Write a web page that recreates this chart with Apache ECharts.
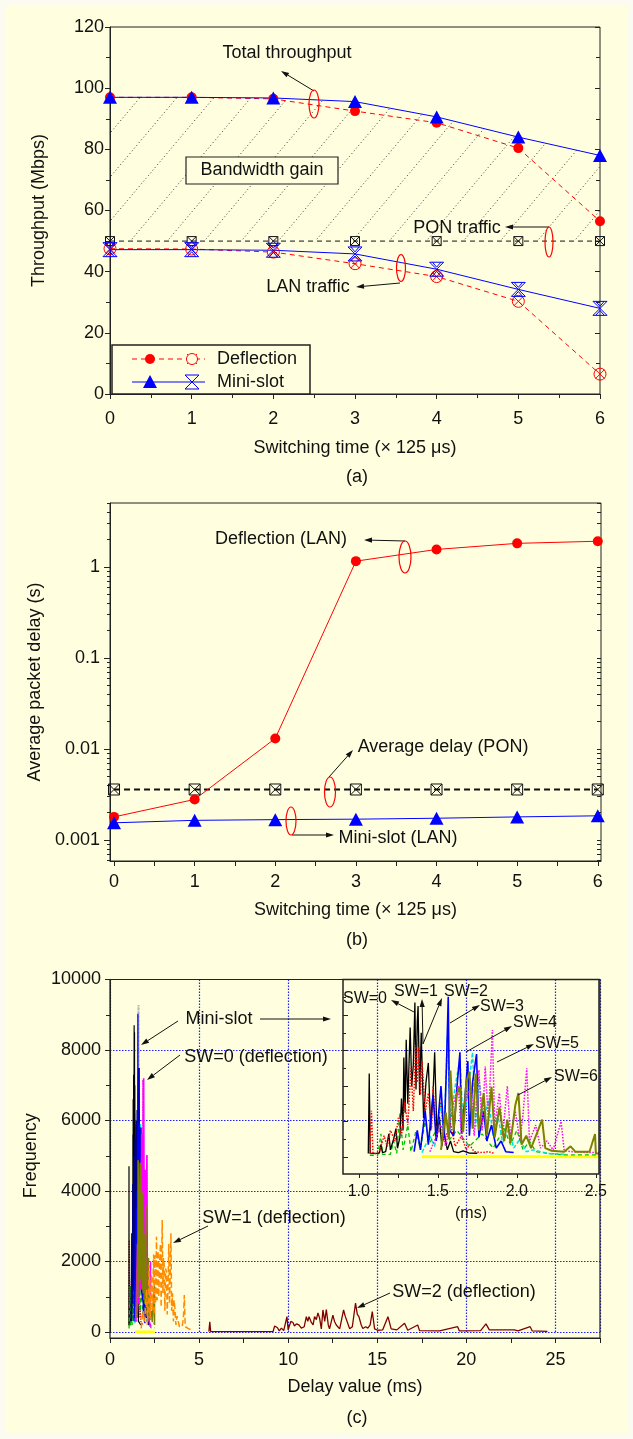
<!DOCTYPE html>
<html>
<head>
<meta charset="utf-8">
<title>Switching time: throughput, delay and delay distribution</title>
<script src="https://cdn.jsdelivr.net/npm/echarts@6.0.0/dist/echarts.min.js"></script>
<style>
  html, body { margin: 0; padding: 0; background: #fbfbf1; }
  #chart { width: 633px; height: 1439px; background: #ffffe0; box-shadow: inset 0 0 0 6px #fbfbf1; }
</style>
</head>
<body>
<div id="chart"></div>
<script>
// ---- (a) throughput vs switching time ----
const switchTimes = [0, 1, 2, 3, 4, 5, 6];
const halfSteps = [0, 0.5, 1, 1.5, 2, 2.5, 3, 3.5, 4, 4.5, 5, 5.5, 6];
const deflTotal = [97, 97, 96.5, 92.5, 88.7, 80.4, 56.5];
const miniTotal = [97, 97, 96.8, 95.6, 90.6, 84, 78];
const ponTraffic = [50, 50, 50, 50, 50, 50, 50];
const deflLan = [47.5, 47.4, 46.4, 42.6, 38.4, 30.3, 6.5];
const miniLan = [47.2, 47.2, 47, 45.8, 40.8, 34.2, 28];

// ---- (b) average packet delay (s) ----
const deflDelay = [0.0018, 0.0028, 0.0131, 1.16, 1.56, 1.82, 1.92];
const ponDelay = [0.0036, 0.0036, 0.0036, 0.0036, 0.0036, 0.0036, 0.0036];
const miniDelay = [0.00155, 0.00165, 0.00168, 0.0017, 0.00174, 0.0018, 0.00185];
const delayTicks = [0.001, 0.01, 0.1, 1];

// ---- (c) delay histograms [ms, frequency] ----
const insetLabels = [1.0, 1.5, 2.0, 2.5];
const insetTicks = [1.0, 1.25, 1.5, 1.75, 2.0, 2.25, 2.5];

const sw0Mini = [[1.06,200],[1.066,4700],[1.072,220],[1.10,200],[1.13,220],[1.14,700],[1.15,250],[1.17,300],[1.19,1300],[1.20,400],[1.22,1000],[1.235,1600],[1.245,500],[1.26,1100],[1.27,3300],[1.28,1500],[1.285,5600],[1.293,2500],[1.30,6600],[1.31,3000],[1.325,7300],[1.335,4000],[1.345,5200],[1.355,8700],[1.362,3800],[1.37,7600],[1.375,8500],[1.385,3500],[1.395,7000],[1.41,2200],[1.425,4200],[1.44,5300],[1.455,1500],[1.47,3600],[1.48,5900],[1.495,1100],[1.51,2300],[1.525,600],[1.54,1400],[1.56,400],[1.58,900],[1.60,300],[1.63,250],[1.66,350],[1.70,220],[1.75,210]];
const sw1Mini = [[1.07,180],[1.08,2600],[1.09,200],[1.11,180],[1.13,300],[1.16,1200],[1.18,600],[1.20,1500],[1.23,900],[1.25,2200],[1.27,1200],[1.29,3100],[1.31,1800],[1.33,5000],[1.345,2600],[1.36,6300],[1.37,4200],[1.38,6200],[1.39,3500],[1.40,5400],[1.42,2500],[1.44,3600],[1.46,1600],[1.47,4000],[1.49,1200],[1.52,3100],[1.54,900],[1.58,1900],[1.61,600],[1.65,1200],[1.68,400],[1.70,700],[1.73,300],[1.78,250],[1.82,300],[1.86,200]];
const sw4Mini = [[1.07,100],[1.12,100],[1.14,1300],[1.15,150],[1.20,150],[1.22,900],[1.24,200],[1.26,2500],[1.28,400],[1.31,1800],[1.33,300],[1.36,1400],[1.39,500],[1.42,2000],[1.45,800],[1.50,1700],[1.55,700],[1.62,1500],[1.70,600],[1.78,1300],[1.85,500],[1.92,1600],[1.96,700],[2.0,1500],[2.04,400],[2.08,900],[2.12,300],[2.2,200],[2.3,120],[2.52,120]];
const sw2Mini = [[1.35,300],[1.37,1500],[1.39,400],[1.42,2600],[1.44,700],[1.47,3500],[1.49,900],[1.52,4000],[1.54,1000],[1.555,5200],[1.566,9030],[1.575,1500],[1.60,1200],[1.62,3800],[1.64,5900],[1.65,1300],[1.67,3200],[1.69,5400],[1.70,1200],[1.72,4200],[1.745,5800],[1.76,1100],[1.79,2600],[1.81,900],[1.84,1800],[1.87,500],[1.90,900],[1.93,300],[1.98,250]];
const sw3Mini = [[1.40,250],[1.45,1200],[1.48,600],[1.52,3000],[1.54,1200],[1.56,6780],[1.58,2000],[1.61,4000],[1.64,5500],[1.66,1800],[1.69,3600],[1.72,5900],[1.74,1700],[1.76,4500],[1.79,2000],[1.82,3200],[1.85,1200],[1.88,2400],[1.91,800],[1.95,1600],[1.98,500],[2.02,1000],[2.06,300],[2.1,400],[2.2,200],[2.3,150]];
const sw5Mini = [[1.45,300],[1.52,1800],[1.55,600],[1.60,3000],[1.63,4000],[1.65,1000],[1.68,3300],[1.71,4000],[1.73,1200],[1.76,4900],[1.78,1500],[1.80,5100],[1.82,2000],[1.845,7150],[1.86,1800],[1.89,3600],[1.91,1200],[1.94,4000],[1.96,1100],[1.99,2600],[2.02,900],[2.04,2500],[2.063,5000],[2.08,900],[2.12,1800],[2.15,500],[2.19,900],[2.23,400],[2.28,2000],[2.30,350],[2.35,300],[2.45,250],[2.52,250]];
const sw6Mini = [[1.52,400],[1.55,2500],[1.57,1000],[1.58,4870],[1.60,1500],[1.62,3500],[1.64,3960],[1.66,1400],[1.68,4200],[1.70,4800],[1.72,1600],[1.74,4700],[1.76,1500],[1.79,3600],[1.81,1200],[1.84,3960],[1.86,1100],[1.89,2800],[1.92,900],[1.94,2100],[1.96,800],[1.99,2900],[2.01,3600],[2.03,700],[2.06,1200],[2.09,500],[2.13,1400],[2.16,2100],[2.18,500],[2.22,350],[2.30,300],[2.34,600],[2.37,300],[2.46,300],[2.495,1300],[2.50,200],[2.52,200]];
const yellowBase = [[1.40,10],[2.52,10]];
const miniEnvelope = [[1.50,300],[1.55,4000],[1.58,2000],[1.60,9280],[1.62,1500],[1.66,3000],[1.70,600]];
const navyMini = [[1.20,300],[1.24,2800],[1.27,800],[1.30,4200],[1.33,1200],[1.36,5000],[1.39,1500],[1.42,5500],[1.45,2000],[1.48,6000],[1.51,1800],[1.54,6300],[1.57,2200],[1.60,6800],[1.62,7490],[1.64,2500],[1.67,5800],[1.70,2000],[1.73,5200],[1.76,1500],[1.80,4600],[1.83,1200],[1.87,4100],[1.90,1000],[1.94,4200],[1.97,700],[2.00,2500],[2.04,400],[2.08,1500],[2.12,300],[2.2,200]];
const sw0Defl = [[1.45,300],[1.55,2500],[1.60,800],[1.68,4000],[1.72,1200],[1.78,5600],[1.82,1500],[1.89,7200],[1.93,1800],[1.98,4600],[2.02,1300],[2.07,5020],[2.10,900],[2.15,1500],[2.2,300],[2.3,150]];
const sw1Defl = [[1.75,100],[1.85,600],[1.95,300],[2.05,1200],[2.10,200],[2.15,770],[2.2,1900],[2.25,400],[2.33,1620],[2.38,600],[2.45,2200],[2.48,500],[2.52,2180],[2.56,800],[2.61,2700],[2.65,900],[2.70,2300],[2.74,1000],[2.78,1900],[2.83,2500],[2.87,700],[2.93,3180],[2.97,1100],[3.00,2100],[3.04,1900],[3.08,600],[3.12,1800],[3.17,1700],[3.21,500],[3.26,1400],[3.30,2500],[3.34,800],[3.38,1700],[3.42,2800],[3.46,600],[3.51,1100],[3.56,300],[3.60,900],[3.64,680],[3.70,200],[3.76,450],[3.83,300],[3.90,150],[3.98,200],[4.05,150],[4.12,400],[4.17,1050],[4.22,150],[4.30,140],[4.45,80],[4.6,70]];
const sw2Defl = [[5.55,10],[5.6,290],[5.65,10],[9.15,10],[9.24,170],[9.4,120],[9.5,30],[9.62,110],[9.75,40],[9.93,435],[10.0,60],[10.05,150],[10.15,300],[10.27,270],[10.35,170],[10.46,230],[10.6,200],[10.74,110],[10.9,150],[11.02,435],[11.1,300],[11.17,435],[11.3,270],[11.4,200],[11.48,435],[11.58,350],[11.67,540],[11.76,400],[11.86,90],[11.95,625],[12.05,300],[12.14,633],[12.25,200],[12.32,90],[12.51,480],[12.6,300],[12.7,200],[12.89,90],[13.11,625],[13.2,450],[13.26,435],[13.45,90],[13.6,150],[13.78,820],[13.88,500],[13.97,435],[14.1,200],[14.19,100],[14.35,150],[14.47,110],[14.6,200],[14.72,576],[14.85,90],[15.03,50],[15.3,60],[15.6,435],[15.78,90],[16.1,60],[16.53,250],[16.71,50],[17.27,200],[17.37,40],[18.5,30],[19.51,150],[19.61,30],[20.8,40],[21.1,230],[21.29,60],[22.4,60],[22.7,60],[22.9,30],[23.58,150],[23.7,30],[24.55,20]];

const FONT = '"Liberation Sans", Arial, Helvetica, sans-serif';
const FS = 18;
const INK = '#111';
const BG = '#ffffe0';
const SQ_X = 'path://M0,0L10,0L10,10L0,10Z M0,0L10,10 M10,0L0,10';
const CIRC_X = 'path://M10,5A5,5,0,1,1,0,5A5,5,0,1,1,10,5Z M1.2,1.2L8.8,8.8 M8.8,1.2L1.2,8.8';
const BAR_X = 'path://M0,0L10,0 M0,10L10,10 M0,0L10,10 M10,0L0,10 M2,0L5,3.5L8,0 M2,10L5,6.5L8,10';

const pts = (xs, ys) => xs.map((x, i) => [x, ys[i]]);

// minor ticks of the log axis in (b)
const logMinor = [];
for (let e = -4; e <= 0; e++) {
    for (let k = 2; k <= 9; k++) {
        const v = +(k * Math.pow(10, e)).toPrecision(2);
        if (v > 0.00059 && v < 5.05) logMinor.push(v);
    }
}

// dotted hatch for "Bandwidth gain"
const hatch = document.createElement('canvas');
hatch.width = 37; hatch.height = 44;
const hg = hatch.getContext('2d');
hg.strokeStyle = '#333'; hg.lineWidth = 1; hg.setLineDash([1, 2.6]);
hg.beginPath(); hg.moveTo(0, 44); hg.lineTo(37, 0); hg.stroke();

const labelStyle = { fontSize: FS, color: INK, fontFamily: FONT };
const nameStyle = { fontSize: FS, color: INK, fontFamily: FONT };
const tickLine = { lineStyle: { color: '#222', width: 1 } };
const gridDots = { show: true, lineStyle: { color: '#1f1fff', type: [1.5, 1.5], width: 1.2 } };

function trace(data, color, width, dash, axes, z) {
    return Object.assign({
        type: 'line', data, symbol: 'none', z: z || 2,
        lineStyle: { color, width, type: dash || 'solid' }
    }, axes);
}
const mainC = { xAxisIndex: 2, yAxisIndex: 5 };
const insetC = { xAxisIndex: 3, yAxisIndex: 6 };

function markerLine(data, color, dash, symbol, size, hollow, axes, width) {
    return Object.assign({
        type: 'line', data, symbol, symbolSize: size, z: 4,
        lineStyle: { color, width: width || 1, type: dash },
        itemStyle: hollow ? { color: 'rgba(0,0,0,0)', borderColor: color, borderWidth: 1 } : { color }
    }, axes);
}

// ---- graphic annotations ----
const g = [];
function txt(s, x, y, size, align) {
    g.push({ type: 'text', x, y, z: 20, style: { text: s, font: size + 'px ' + FONT, fill: INK, textAlign: align || 'center', textVerticalAlign: 'middle' } });
}
function seg(x1, y1, x2, y2, color, dash) {
    g.push({ type: 'line', z: 20, shape: { x1, y1, x2, y2 }, style: { stroke: color || INK, lineWidth: 1, lineDash: dash || null } });
}
function arrow(x1, y1, x2, y2) {
    const a = Math.atan2(y2 - y1, x2 - x1), L = 8, W = 2.6;
    const bx = x2 - L * Math.cos(a), by = y2 - L * Math.sin(a);
    seg(x1, y1, bx, by);
    g.push({ type: 'polygon', z: 20, shape: { points: [[x2, y2], [bx - W * Math.sin(a), by + W * Math.cos(a)], [bx + W * Math.sin(a), by - W * Math.cos(a)]] }, style: { fill: INK } });
}
function ring(cx, cy, rx, ry) {
    g.push({ type: 'ellipse', z: 20, shape: { cx, cy, rx, ry }, style: { fill: 'none', stroke: '#ff0000', lineWidth: 1.2 } });
}
function box(x, y, w, h, lw, fill) {
    g.push({ type: 'rect', z: 19, shape: { x, y, width: w, height: h }, style: { fill: fill || 'none', stroke: '#222', lineWidth: lw } });
}

txt('(a)', 357, 477, FS); txt('(b)', 357, 940, FS); txt('(c)', 357, 1418, FS);

// (a)
txt('Total throughput', 287, 53, FS); arrow(314, 91, 281, 71); ring(314, 104, 5, 14);
box(186, 157, 152, 27, 1.2, BG); txt('Bandwidth gain', 262, 170.5, FS);
txt('PON traffic', 457, 228, FS); arrow(549, 227, 505, 227); ring(549, 242, 4, 15);
txt('LAN traffic', 308, 287, FS); arrow(400, 283, 356, 287); ring(401, 268, 4.5, 13.5);
box(112, 345, 198, 49, 1.5, BG);
seg(132, 359, 205, 359, '#ff0000', [5, 4]);
g.push({ type: 'circle', z: 21, shape: { cx: 150, cy: 359, r: 5 }, style: { fill: '#ff0000' } });
g.push({ type: 'circle', z: 21, shape: { cx: 192, cy: 359, r: 5.5 }, style: { fill: BG, stroke: '#ff0000', lineWidth: 1 } });
seg(187, 354, 197, 364, '#ff0000'); seg(197, 354, 187, 364, '#ff0000');
txt('Deflection', 217, 359, FS, 'left');
seg(132, 382, 205, 382, '#0000ff');
g.push({ type: 'polygon', z: 21, shape: { points: [[143, 388], [157, 388], [150, 375]] }, style: { fill: '#0000ff' } });
seg(185, 375, 199, 389, '#0000ff'); seg(199, 375, 185, 389, '#0000ff');
seg(185, 375, 199, 375, '#0000ff'); seg(185, 389, 199, 389, '#0000ff');
txt('Mini-slot', 217, 382, FS, 'left');

// (b)
txt('Deflection (LAN)', 281, 539, FS); arrow(405, 541, 364, 540); ring(405, 557, 6, 16);
txt('Average delay (PON)', 443, 747, FS); arrow(329, 777, 353, 750); ring(330, 792, 5.5, 15);
txt('Mini-slot (LAN)', 398, 838, FS); arrow(292, 835, 334, 835); ring(291, 821, 5, 14);

// (c)
box(110, 979.5, 490, 358.5, 1.2);
txt('Mini-slot', 219, 1019, FS); arrow(178, 1021, 141, 1045); arrow(260, 1019, 331, 1019);
txt('SW=0 (deflection)', 256, 1057, FS); arrow(180, 1055, 147, 1080);
txt('SW=1 (deflection)', 274, 1218, FS); arrow(208, 1226, 173, 1243);
txt('SW=2 (deflection)', 464, 1292, FS); arrow(390, 1293, 357, 1308);
box(343, 979.5, 256, 194.5, 1.5);
txt('SW=0', 365, 999, 16); arrow(414, 1012, 391, 1000);
txt('SW=1', 416, 992, 16); arrow(423, 1044, 422, 999);
txt('SW=2', 466, 992, 16); arrow(423, 1044, 442, 998);
txt('SW=3', 502, 1007, 16); arrow(450, 1023, 480, 1005);
txt('SW=4', 535, 1023, 16); arrow(466, 1052, 512, 1026);
txt('SW=5', 557, 1044, 16); arrow(497, 1062, 534, 1044);
txt('SW=6', 576, 1077, 16); arrow(518, 1095, 552, 1077);

const chart = echarts.init(document.getElementById('chart'), null, { renderer: 'canvas' });
chart.setOption({
    animation: false,
    textStyle: { fontFamily: FONT },
    grid: [
        { left: 110, top: 27, width: 490, height: 367, show: true, borderColor: '#222', borderWidth: 1 },
        { left: 110, top: 503, width: 491, height: 358, show: true, borderColor: '#222', borderWidth: 1 },
        { left: 110, top: 979.5, width: 490, height: 352.5 },
        { left: 343, top: 979.5, width: 256, height: 177.5 }
    ],
    xAxis: [
        {
            gridIndex: 0, type: 'value', min: 0, max: 6, interval: 1,
            axisLine: Object.assign({ onZero: false }, tickLine), axisTick: Object.assign({ length: 5 }, tickLine),
            minorTick: Object.assign({ show: true, splitNumber: 2, length: 4 }, tickLine),
            splitLine: { show: false }, axisLabel: Object.assign({ margin: 16 }, labelStyle),
            name: 'Switching time (× 125 μs)', nameLocation: 'middle', nameGap: 45, nameTextStyle: nameStyle
        },
        {
            gridIndex: 1, type: 'value', min: -0.05, max: 6.04,
            axisLine: Object.assign({ onZero: false }, tickLine), axisTick: Object.assign({ length: 5, customValues: halfSteps }, tickLine),
            splitLine: { show: false }, axisLabel: Object.assign({ margin: 12, customValues: switchTimes }, labelStyle),
            name: 'Switching time (× 125 μs)', nameLocation: 'middle', nameGap: 40, nameTextStyle: nameStyle
        },
        {
            gridIndex: 2, type: 'value', min: 0, max: 27.5, interval: 5, offset: 6,
            axisLine: Object.assign({ onZero: false }, tickLine), axisTick: Object.assign({ length: 5 }, tickLine),
            minorTick: Object.assign({ show: true, splitNumber: 2, length: 5 }, tickLine),
            splitLine: gridDots,
            axisLabel: Object.assign({ margin: 13, showMaxLabel: false }, labelStyle),
            name: 'Delay value (ms)', nameLocation: 'middle', nameGap: 40, nameTextStyle: nameStyle
        },
        {
            gridIndex: 3, type: 'value', min: 0.9, max: 2.52, offset: 17,
            axisLine: { show: false, onZero: false }, axisTick: Object.assign({ length: 4, customValues: insetTicks }, tickLine),
            splitLine: { show: false },
            axisLabel: { customValues: insetLabels, formatter: v => (+v).toFixed(1), fontSize: 16, color: INK, fontFamily: FONT, margin: 10 },
            name: '(ms)', nameLocation: 'middle', nameGap: 32, nameTextStyle: { fontSize: 16, color: INK, fontFamily: FONT }
        }
    ],
    yAxis: [
        {
            gridIndex: 0, type: 'value', position: 'left', min: 0, max: 120, interval: 20,
            axisLine: { show: true, onZero: false, lineStyle: { color: '#222' } }, axisTick: Object.assign({ length: 5 }, tickLine),
            minorTick: Object.assign({ show: true, splitNumber: 2, length: 4 }, tickLine),
            splitLine: { show: false }, axisLabel: Object.assign({ margin: 6 }, labelStyle),
            name: 'Throughput (Mbps)', nameLocation: 'middle', nameGap: 62, nameTextStyle: nameStyle
        },
        {
            gridIndex: 0, type: 'value', position: 'right', min: 0, max: 120, interval: 20,
            axisLine: { show: false, onZero: false }, axisTick: Object.assign({ length: 5, inside: true }, tickLine),
            minorTick: Object.assign({ show: true, splitNumber: 2, length: 4 }, tickLine),
            splitLine: { show: false }, axisLabel: { show: false }
        },
        {
            gridIndex: 1, type: 'log', position: 'left', min: 0.00059, max: 5.05,
            axisLine: { show: true, onZero: false, lineStyle: { color: '#222' } },
            axisTick: Object.assign({ length: 6, customValues: delayTicks }, tickLine),
            splitLine: { show: false },
            axisLabel: Object.assign({ margin: 10, customValues: delayTicks, formatter: v => String(+(+v).toPrecision(3)) }, labelStyle),
            name: 'Average packet delay (s)', nameLocation: 'middle', nameGap: 64, nameTextStyle: nameStyle
        },
        {
            gridIndex: 1, type: 'log', position: 'left', min: 0.00059, max: 5.05,
            axisLine: { show: false, onZero: false }, axisTick: Object.assign({ length: 3, customValues: logMinor }, tickLine),
            splitLine: { show: false }, axisLabel: { show: false }
        },
        {
            gridIndex: 1, type: 'log', position: 'right', min: 0.00059, max: 5.05,
            axisLine: { show: false, onZero: false }, axisTick: Object.assign({ length: 4, inside: true, customValues: delayTicks.concat(logMinor) }, tickLine),
            splitLine: { show: false }, axisLabel: { show: false }
        },
        {
            gridIndex: 2, type: 'value', min: 0, max: 10000, interval: 2000,
            axisLine: { show: true, onZero: false, lineStyle: { color: '#222' } }, axisTick: Object.assign({ length: 5 }, tickLine),
            minorTick: Object.assign({ show: true, splitNumber: 2, length: 4 }, tickLine),
            splitLine: gridDots,
            axisLabel: Object.assign({ margin: 9, formatter: v => String(v) }, labelStyle),
            name: 'Frequency', nameLocation: 'middle', nameGap: 64, nameTextStyle: nameStyle
        },
        {
            gridIndex: 3, type: 'value', min: 0, max: 10000, interval: 2000,
            axisLine: { show: false, onZero: false }, axisTick: Object.assign({ length: 5, inside: true }, tickLine),
            minorTick: Object.assign({ show: true, splitNumber: 2, length: 3 }, tickLine),
            splitLine: { show: false }, axisLabel: { show: false }
        }
    ],
    series: [
        // (a)
        {
            type: 'line', xAxisIndex: 0, yAxisIndex: 0, data: pts(switchTimes, miniTotal), symbol: 'none', z: 1,
            lineStyle: { width: 0, opacity: 0 }, areaStyle: { origin: 50, color: { image: hatch, repeat: 'repeat' }, opacity: 1 }
        },
        markerLine(pts(switchTimes, ponTraffic), '#111', [5, 4], SQ_X, 9, true, { xAxisIndex: 0, yAxisIndex: 0 }),
        markerLine(pts(switchTimes, deflLan), '#ff0000', [5, 4], CIRC_X, 12, true, { xAxisIndex: 0, yAxisIndex: 0 }),
        markerLine(pts(switchTimes, miniLan), '#0000ff', 'solid', BAR_X, 14, true, { xAxisIndex: 0, yAxisIndex: 0 }),
        markerLine(pts(switchTimes, deflTotal), '#ff0000', [5, 4], 'circle', 10, false, { xAxisIndex: 0, yAxisIndex: 0 }),
        markerLine(pts(switchTimes, miniTotal), '#0000ff', 'solid', 'triangle', [14, 13], false, { xAxisIndex: 0, yAxisIndex: 0 }),
        // (b)
        markerLine(pts(switchTimes, ponDelay), '#111', [6, 4], SQ_X, 11, true, { xAxisIndex: 1, yAxisIndex: 2 }, 2),
        markerLine(pts(switchTimes, deflDelay), '#ff0000', 'solid', 'circle', 10, false, { xAxisIndex: 1, yAxisIndex: 2 }),
        markerLine(pts(switchTimes, miniDelay), '#0000ff', 'solid', 'triangle', [14, 13], false, { xAxisIndex: 1, yAxisIndex: 2 }),
        // (c) main
        trace(miniEnvelope, '#b4b4b4', 2, 'dotted', mainC),
        trace(sw1Mini, '#ff0000', 1.3, 'dotted', mainC),
        trace(sw0Mini, '#000000', 1.2, 'solid', mainC),
        trace(sw4Mini, '#00c000', 1.3, [4, 3], mainC),
        trace(sw3Mini, '#00e0e0', 1.3, [4, 2], mainC),
        trace(navyMini, '#000080', 2, 'solid', mainC),
        trace(sw2Mini, '#0000ff', 1.3, 'solid', mainC),
        trace(sw5Mini, '#ff00ff', 1.3, 'dotted', mainC),
        trace(sw0Defl, '#ff00ff', 1.6, 'solid', mainC),
        trace(sw6Mini, '#808000', 1.6, 'solid', mainC),
        trace(yellowBase, '#ffff00', 2.5, 'solid', mainC),
        trace(sw1Defl, '#ff8c00', 1.5, [6, 3], mainC),
        trace(sw2Defl, '#800000', 1.3, 'solid', mainC),
        // (c) inset
        trace(yellowBase, '#ffff00', 3, 'solid', insetC),
        trace(sw4Mini, '#00c000', 1.3, [4, 3], insetC),
        trace(sw0Mini, '#000000', 1.3, 'solid', insetC),
        trace(sw1Mini, '#ff0000', 1.5, 'dotted', insetC),
        trace(sw3Mini, '#00e0e0', 1.5, [4, 2], insetC),
        trace(sw2Mini, '#0000ff', 1.6, 'solid', insetC),
        trace(sw5Mini, '#ff00ff', 1.5, 'dotted', insetC),
        trace(sw6Mini, '#808000', 2, 'solid', insetC)
    ],
    graphic: g
});
</script>
</body>
</html>
